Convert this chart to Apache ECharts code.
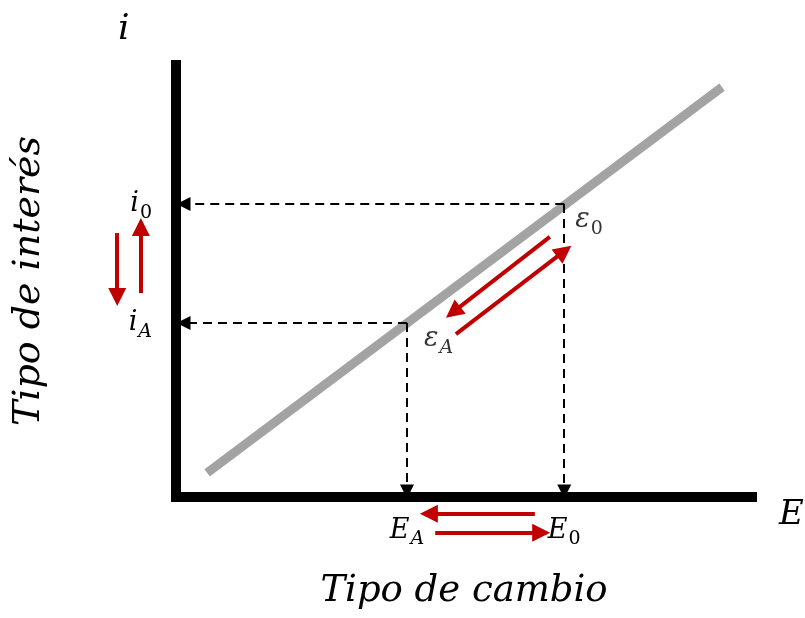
<!DOCTYPE html>
<html>
<head>
<meta charset="utf-8">
<script src="https://cdn.jsdelivr.net/npm/echarts@6/dist/echarts.min.js"></script>
<style>
  html, body { margin: 0; padding: 0; background: #fff; }
  #chart { width: 805px; height: 618px; }
</style>
</head>
<body>
<div id="chart"></div>
<script>
// curva PNCI (dos extremos) y los dos equilibrios
const curveLine = [[5.4, 5.6], [94.8, 94.9]];
const eqPoints = [[67.4, 67.8], [40.1, 40.3]];
const eqNames = ['0', 'A'];
// marcas de los ejes
const yTickValues = [40.3, 67.8];
const yTickLabels = ['A', '0'];
const xTickValues = [40.1, 67.4];
const xTickLabels = ['A', '0'];
// flechas rojas [desde, hasta]
const redArrows = [
  [[-10.2, 61.1], [-10.2, 46.3]],
  [[-6.1, 47.2], [-6.1, 62.5]],
  [[64.9, 60.2], [48.1, 42.8]],
  [[48.6, 37.7], [67.4, 56.9]],
  [[62.3, -3.9], [43.9, -3.9]],
  [[45.0, -8.3], [63.4, -8.3]]
];
// final de las flechas punteadas sobre los ejes
const axisStop = 1.3;

const mathFont = 'DejaVu Serif';
const rich = {
  v: { fontFamily: mathFont, fontStyle: 'italic', fontSize: 27, color: '#000' },
  s: { fontFamily: mathFont, fontStyle: 'italic', fontSize: 19, color: '#000', padding: [18, 0, 0, 1] },
  n: { fontFamily: mathFont, fontSize: 19, color: '#000', padding: [18, 0, 0, 1] }
};
function sub(main, s) {
  const key = s === '0' ? 'n' : 's';
  return '{v|' + main + '}{' + key + '|' + s + '}';
}

// flechas punteadas desde cada equilibrio hacia los ejes
let dashed = [];
eqPoints.forEach(function (p) {
  dashed.push({ coords: [p, [axisStop, p[1]]] });
  dashed.push({ coords: [p, [p[0], axisStop]] });
});

let chart = echarts.init(document.getElementById('chart'));
chart.setOption({
  backgroundColor: '#fff',
  animation: false,
  grid: { left: 176, right: 53, top: 65, bottom: 121 },
  xAxis: {
    type: 'value', min: 0, max: 100,
    axisLine: { lineStyle: { color: '#000', width: 10, cap: 'square' } },
    axisTick: { show: false },
    splitLine: { show: false },
    axisLabel: {
      customValues: xTickValues,
      margin: 15,
      formatter: function (v) {
        return sub('E', xTickLabels[xTickValues.indexOf(v)]);
      },
      rich: rich
    },
    name: 'Tipo de cambio',
    nameLocation: 'middle',
    nameGap: 76,
    nameTextStyle: { fontFamily: mathFont, fontStyle: 'italic', fontSize: 37, color: '#000' }
  },
  yAxis: {
    type: 'value', min: 0, max: 100,
    axisLine: { lineStyle: { color: '#000', width: 10, cap: 'square' } },
    axisTick: { show: false },
    splitLine: { show: false },
    axisLabel: {
      customValues: yTickValues,
      margin: 24,
      formatter: function (v) {
        return sub('i', yTickLabels[yTickValues.indexOf(v)]);
      },
      rich: rich
    },
    name: 'Tipo de interés',
    nameLocation: 'middle',
    nameGap: 128,
    nameTextStyle: { fontFamily: mathFont, fontStyle: 'italic', fontSize: 38, color: '#000' }
  },
  graphic: [
    { type: 'text', left: 118, top: 12, style: { text: 'i', font: 'italic 36px "DejaVu Serif"', fill: '#000' } },
    { type: 'text', left: 779, top: 498, style: { text: 'E', font: 'italic 34px "DejaVu Serif"', fill: '#000' } }
  ],
  series: [
    {
      type: 'line',
      data: curveLine.map(function (p, i) {
        return i === 1 ? {
          value: p,
          label: {
            show: true, position: 'top', distance: 18, offset: [8, 0],
            formatter: sub('PNCI', '0'), rich: rich
          }
        } : p;
      }),
      symbol: 'none',
      lineStyle: { color: '#a3a3a3', width: 9 },
      z: 2
    },
    {
      type: 'lines',
      coordinateSystem: 'cartesian2d',
      clip: false,
      symbol: ['none', 'triangle'],
      symbolSize: [12, 14],
      lineStyle: { color: '#000', width: 2, type: [9, 6], opacity: 1 },
      data: dashed,
      z: 3
    },
    {
      type: 'lines',
      coordinateSystem: 'cartesian2d',
      clip: false,
      symbol: ['none', 'triangle'],
      symbolSize: [15, 18],
      lineStyle: { color: '#c00000', width: 4, opacity: 1 },
      data: redArrows.map(function (a) { return { coords: a }; }),
      z: 4
    },
    {
      type: 'scatter',
      clip: false,
      symbolSize: 0,
      data: eqPoints.map(function (p, i) {
        return {
          value: p,
          label: {
            show: true,
            position: 'right',
            color: '#000',
            offset: i === 0 ? [6, 16] : [12, 16],
            formatter: sub('ε', eqNames[i]),
            rich: rich
          }
        };
      }),
      z: 5
    }
  ]
});
window.addEventListener('resize', function () {
  chart.resize();
});
</script>
</body>
</html>
